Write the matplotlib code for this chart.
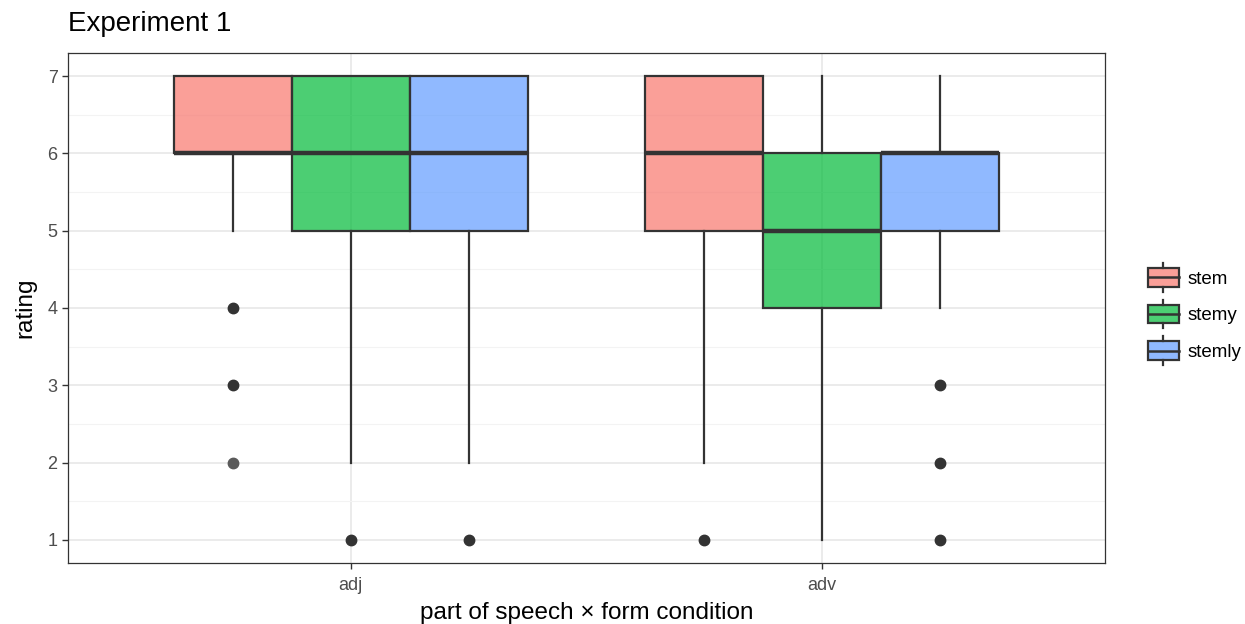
import numpy as np
import matplotlib
matplotlib.use("Agg")
import matplotlib.pyplot as plt
from matplotlib.legend_handler import HandlerBase
from matplotlib.patches import Rectangle
from matplotlib.lines import Line2D

plt.rcParams['font.family'] = ['Liberation Sans', 'DejaVu Sans']

# data
pos_labels = ["adj", "adv"]
forms = ["stem", "stemy", "stemly"]
colors = ["#F8766D", "#00BA38", "#619CFF"]

# per (pos, form): whislo, q1, med, q3, whishi
adj_stats = [(5, 6, 6, 7, 7), (2, 5, 6, 7, 7), (2, 5, 6, 7, 7)]
adv_stats = [(2, 5, 6, 7, 7), (1, 4, 5, 6, 7), (4, 5, 6, 6, 7)]
adj_out = [[4, 3, 2], [1], [1]]
adv_out = [[1], [], [3, 2, 1]]
# the lone faint outlier (fewer overlapping points)
faint = [("adj", "stem", 2)]

fig = plt.figure(figsize=(12.45, 6.24), dpi=100)
ax = fig.add_axes([68 / 1245, 61 / 624, 1037 / 1245, 510 / 624])

width = 0.25
offs = [-width, 0, width]
dark = "#333333"

for i, (stats, outs) in enumerate([(adj_stats, adj_out), (adv_stats, adv_out)]):
    for k, (st, out) in enumerate(zip(stats, outs)):
        lo, q1, med, q3, hi = st
        p = i + 1 + offs[k]
        d = dict(whislo=lo, q1=q1, med=med, q3=q3, whishi=hi, fliers=[])
        bp = ax.bxp([d], positions=[p], widths=width, patch_artist=True,
                    showcaps=False, showfliers=False, manage_ticks=False,
                    boxprops=dict(edgecolor=dark, linewidth=1.6),
                    medianprops=dict(color=dark, linewidth=3.2),
                    whiskerprops=dict(color=dark, linewidth=1.6))
        for b in bp["boxes"]:
            b.set_facecolor(matplotlib.colors.to_rgba(colors[k], 0.7))
            b.set_edgecolor(dark)
            b.set_zorder(3)
        for ln in bp["medians"] + bp["whiskers"]:
            ln.set_zorder(4)
        for v in out:
            c = dark
            if (pos_labels[i], forms[k], v) in faint:
                c = "#5a5a5a"
            ax.plot(p, v, "o", color=c, markersize=7.5, zorder=5)

ax.set_xlim(0.4, 2.6)
ax.set_ylim(0.7, 7.3)
ax.set_xticks([1, 2])
ax.set_xticklabels(pos_labels)
ax.set_yticks(range(1, 8))
ax.set_yticks(np.arange(1.5, 7, 1), minor=True)
ax.grid(True, which="major", color="#EBEBEB", linewidth=1.4, zorder=0)
ax.grid(True, which="minor", axis="y", color="#F3F3F3", linewidth=0.8, zorder=0)
ax.set_axisbelow(True)
for s in ax.spines.values():
    s.set_color("#333333")
    s.set_linewidth(0.9)
ax.tick_params(which="major", colors="#333333", labelcolor="#4D4D4D", labelsize=13, length=4, width=1)
ax.tick_params(axis="x", pad=6)
ax.tick_params(which="minor", length=0)

ax.set_xlabel("part of speech \u00d7 form condition", fontsize=17.5, labelpad=6)
ax.set_ylabel("rating", fontsize=17.5, labelpad=8)
fig.text(68 / 1245, 1 - 24 / 624, "Experiment 1", fontsize=20, va="center", ha="left")


class BoxHandler(HandlerBase):
    def create_artists(self, legend, orig_handle, xdescent, ydescent, width, height, fontsize, trans):
        col = orig_handle.get_facecolor()
        w = width
        h = height
        x0 = -xdescent
        y0 = -ydescent
        bx = Rectangle((x0, y0 - 0.05 * h), w, 1.1 * h, facecolor=col,
                       edgecolor=dark, linewidth=1.6, transform=trans)
        mid = y0 + 0.5 * h
        m = Line2D([x0, x0 + w], [mid, mid], color=dark, linewidth=1.8, transform=trans)
        w1 = Line2D([x0 + w / 2] * 2, [y0 + 1.05 * h, y0 + 1.35 * h], color=dark, linewidth=1.6, transform=trans)
        w2 = Line2D([x0 + w / 2] * 2, [y0 - 0.05 * h, y0 - 0.35 * h], color=dark, linewidth=1.6, transform=trans)
        return [bx, m, w1, w2]


handles = [Rectangle((0, 0), 1, 1, facecolor=matplotlib.colors.to_rgba(c, 0.7)) for c in colors]
leg = fig.legend(handles, forms, handler_map={Rectangle: BoxHandler()},
                 loc="center left", bbox_to_anchor=(1144 / 1245, 1 - 315 / 624),
                 frameon=False, fontsize=13.5, handlelength=1.65, handleheight=1.0,
                 labelspacing=0.95, handletextpad=0.45, borderpad=0.2, borderaxespad=0)

fig.savefig("out.png", dpi=100)
